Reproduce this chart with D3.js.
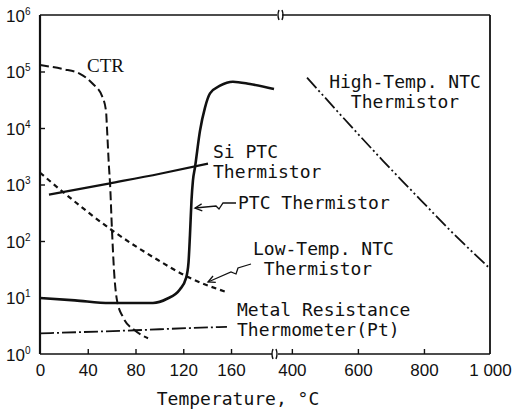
<!DOCTYPE html>
<html>
<head>
<meta charset="utf-8">
<script src="https://cdn.jsdelivr.net/npm/d3@7"></script>
<style>
  body { margin: 0; background: #fff; }
  svg { display: block; }
  .lbl { font-family: "DejaVu Sans Mono", monospace; font-size: 18px; fill: #111; }
</style>
</head>
<body>
<div id="chart"></div>
<script>
// temperature (°C) and resistance
const ctrT = [0, 19.3, 33.5, 44.4, 51.9, 55.3, 56.1, 57.8, 58.6, 60.3, 62, 64.5, 69.5, 79.6, 90.5];
const ctrR = [1.3e5, 1.1e5, 9.1e4, 6.0e4, 3.7e4, 2.0e4, 1.0e4, 2000, 1100, 155, 30, 8.9, 4.5, 2.6, 1.9];

const ptcT = [0, 29.3, 58.6, 94.6, 106.4, 117.3, 122.3, 124.4, 125.6, 126.9, 128.1, 129.8, 134, 138.2, 142.4, 150.8, 161.6, 175.9, 196];
const ptcR = [9.8, 8.9, 8.0, 8.0, 9.5, 14, 22, 42, 126, 525, 1175, 2000, 8900, 2.3e4, 4.1e4, 5.6e4, 6.6e4, 6.0e4, 4.9e4];

const siT = [7.5, 58.6, 100.5, 140.7];
const siR = [660, 1050, 1550, 2340];

const lowT = [0, 20.9, 60.3, 98.8, 124, 157.5];
const lowR = [1620, 690, 155, 46, 23, 12.2];

const ptT = [0, 79.6, 125.6, 156.6];
const ptR = [2.32, 2.63, 2.88, 3.02];

const highT = [446, 537, 676, 791, 879, 994];
const highR = [7.8e4, 2.0e4, 2630, 525, 155, 35];

const xTicks = [0, 40, 80, 120, 160, 400, 600, 800, 1000];
const yTicks = [1, 10, 100, 1e3, 1e4, 1e5, 1e6];

const W = 518, H = 413;
const pLeft = 40, pRight = 490, pTop = 15, pBottom = 354;

const svg = d3.select("#chart").append("svg")
  .attr("width", W).attr("height", H);

// broken x axis: 0..196 then 355..1000
const x = d3.scaleLinear()
  .domain([0, 196, 355, 1000])
  .range([pLeft, 274, 277, pRight]);
const y = d3.scaleLog()
  .domain([1, 1e6])
  .range([pBottom, pTop]);

// frame
const frame = svg.append("g").attr("fill", "none").attr("stroke", "#111");
frame.append("line").attr("x1", pLeft).attr("x2", pLeft).attr("y1", pTop).attr("y2", pBottom).attr("stroke-width", 2.2);
frame.append("line").attr("x1", pRight).attr("x2", pRight).attr("y1", pTop).attr("y2", pBottom).attr("stroke-width", 1.8);
frame.append("line").attr("x1", pLeft).attr("x2", 277).attr("y1", pTop).attr("y2", pTop).attr("stroke-width", 1.6);
frame.append("line").attr("x1", 282).attr("x2", pRight).attr("y1", pTop).attr("y2", pTop).attr("stroke-width", 1.6);
frame.append("line").attr("x1", pLeft).attr("x2", 272).attr("y1", pBottom).attr("y2", pBottom).attr("stroke-width", 1.6);
frame.append("line").attr("x1", 278).attr("x2", pRight).attr("y1", pBottom).attr("y2", pBottom).attr("stroke-width", 1.6);
// break marks
[[278, pTop], [272, pBottom]].forEach(function (b) {
  frame.append("path")
    .attr("d", "M" + (b[0] + 1) + "," + (b[1] - 5) + " q-2,5 0,10 M" + (b[0] + 4) + "," + (b[1] - 5) + " q2,5 0,10")
    .attr("stroke-width", 1.4);
});

// x axis ticks
const xAxis = svg.append("g")
  .attr("transform", "translate(0," + pBottom + ")")
  .call(d3.axisBottom(x).tickValues(xTicks).tickSizeInner(-5).tickSizeOuter(0)
    .tickFormat(function (d) { return d === 1000 ? "1 000" : d; }));
xAxis.select(".domain").remove();
xAxis.selectAll(".tick line").attr("stroke", "#111").attr("stroke-width", 1.4);
xAxis.selectAll(".tick").filter(function (d) { return d === 0 || d === 1000; }).select("line").remove();
xAxis.selectAll(".tick text").attr("y", 10).attr("dy", "0.71em").attr("fill", "#111")
  .style("font-family", "Liberation Sans, Arial, sans-serif").style("font-size", "17px");

// y axis ticks with 10^n labels
const yAxis = svg.append("g")
  .attr("transform", "translate(" + pLeft + ",0)")
  .call(d3.axisLeft(y).tickValues(yTicks).tickSizeInner(-5).tickSizeOuter(0).tickFormat(""));
yAxis.select(".domain").remove();
yAxis.selectAll(".tick line").attr("stroke", "#111").attr("stroke-width", 1.4);
yAxis.selectAll(".tick").filter(function (d) { return d === 1 || d === 1e6; }).select("line").remove();
yAxis.selectAll(".tick").each(function (d) {
  const t = d3.select(this).append("text")
    .attr("x", -34).attr("y", 6).attr("fill", "#111").attr("text-anchor", "start")
    .style("font-family", "Liberation Sans, Arial, sans-serif").style("font-size", "17px");
  t.append("tspan").text("10");
  t.append("tspan").attr("dy", -7).style("font-size", "10px").text(Math.round(Math.log10(d)));
});

// curves
const line = d3.line()
  .x(function (d) { return x(d[0]); })
  .y(function (d) { return y(d[1]); })
  .curve(d3.curveMonotoneX);

function series(T, R) { return T.map(function (t, i) { return [t, R[i]]; }); }

const curves = [
  { data: series(ctrT, ctrR), w: 2, dash: "9,4" },
  { data: series(ptcT, ptcR), w: 2.6, dash: null },
  { data: series(siT, siR), w: 2.2, dash: null },
  { data: series(lowT, lowR), w: 2.2, dash: "5,4" },
  { data: series(ptT, ptR), w: 1.8, dash: "14,3,2,3" },
  { data: series(highT, highR), w: 1.8, dash: "14,3,2,3,2,3" }
];

svg.append("g").selectAll("path")
  .data(curves)
  .enter()
  .append("path")
  .attr("d", function (c) { return line(c.data); })
  .attr("fill", "none")
  .attr("stroke", "#111")
  .attr("stroke-width", function (c) { return c.w; })
  .attr("stroke-dasharray", function (c) { return c.dash; });

// labels
const labels = [
  { lines: ["CTR"], x: 87, y: 72, anchor: "start", serif: true },
  { lines: ["High-Temp. NTC", "Thermistor"], x: 405, y: 88, anchor: "middle" },
  { lines: ["Si PTC", "Thermistor"], x: 213, y: 158, anchor: "start" },
  { lines: ["PTC Thermistor"], x: 238, y: 209, anchor: "start" },
  { lines: ["Low-Temp. NTC", " Thermistor"], x: 253, y: 255, anchor: "start" },
  { lines: ["Metal Resistance", "Thermometer(Pt)"], x: 237, y: 316, anchor: "start" }
];
labels.forEach(function (l) {
  const t = svg.append("text")
    .attr("class", "lbl")
    .attr("text-anchor", l.anchor)
    .attr("x", l.x).attr("y", l.y)
    .style("white-space", "pre");
  if (l.serif) t.style("font-family", "Liberation Serif, serif").style("font-size", "19px");
  l.lines.forEach(function (s, i) {
    t.append("tspan").attr("x", l.x).attr("dy", i === 0 ? 0 : 20).text(s);
  });
});

// zig-zag leaders with arrowheads
svg.append("defs").append("marker")
  .attr("id", "arr").attr("viewBox", "-8 -5 10 10")
  .attr("markerWidth", 10).attr("markerHeight", 10)
  .attr("orient", "auto").attr("markerUnits", "userSpaceOnUse")
  .append("path").attr("d", "M-7,-3.5 L0,0 L-7,3.5")
  .attr("fill", "none").attr("stroke", "#111").attr("stroke-width", 1.3);

const leaders = [
  [[236, 203], [223, 203], [219, 209], [216, 206], [195, 208]],
  [[251, 264], [238, 268], [236, 274], [231, 272], [208, 282]]
];
svg.append("g").selectAll("path")
  .data(leaders)
  .enter()
  .append("path")
  .attr("d", function (p) { return d3.line()(p); })
  .attr("fill", "none")
  .attr("stroke", "#111")
  .attr("stroke-width", 1.3)
  .attr("marker-end", "url(#arr)");

// axis title
svg.append("text")
  .attr("class", "lbl")
  .attr("x", 238).attr("y", 405)
  .attr("text-anchor", "middle")
  .text("Temperature, °C");
</script>
</body>
</html>
